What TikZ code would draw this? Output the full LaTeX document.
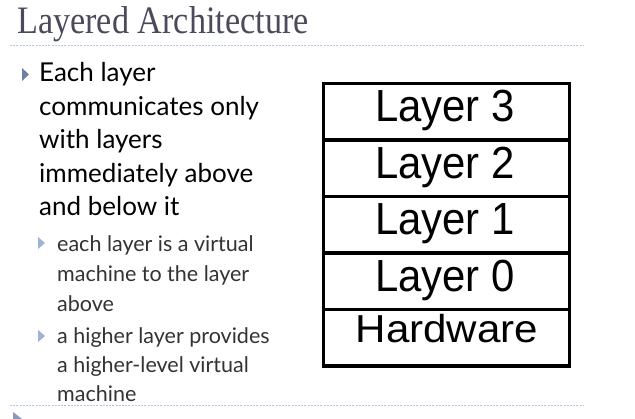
\documentclass[tikz,border=0pt]{standalone}
\usepackage{fontspec}
\setmainfont{Liberation Serif}
\newfontfamily\bodyfont{Lato}
\newfontfamily\boxfont{Liberation Sans}
\definecolor{titlegray}{HTML}{4B4A5A}
\definecolor{rulecol}{HTML}{B4C6DE}
\definecolor{bulletmain}{HTML}{6F7FA3}
\definecolor{bulletsub}{HTML}{9DB3D6}
\definecolor{subtext}{HTML}{333333}
\tikzset{
  px/.style={x=1pt,y=-1pt},
  titletext/.style={anchor=base west,inner sep=0pt,text=titlegray,
    font=\fontsize{36}{40}\selectfont},
  mainline/.style={anchor=base west,inner sep=0pt,text=black,
    font=\bodyfont\fontsize{26}{30}\selectfont},
  subline/.style={anchor=base west,inner sep=0pt,text=subtext,
    font=\bodyfont\fontsize{21.5}{25}\selectfont},
  sepline/.style={draw=rulecol,line width=1pt,dash pattern=on 2pt off 1.2pt},
  layerrow/.style={draw=black,line width=3.4pt,minimum width=246pt,
    minimum height=56.5pt,inner sep=0pt,anchor=north west},
  layertext/.style={anchor=base,inner sep=0pt,
    font=\boxfont\fontsize{45}{50}\selectfont},
}
\begin{document}
\begin{tikzpicture}[px]
\useasboundingbox (0,0) rectangle (635,419);
% title and separator rules
\node[titletext] (title) at (17,34) {\scalebox{0.95}[1.08]{Layered Architecture}};
\coordinate (t0) at (10,46); \coordinate (t1) at (583,46);
\draw[sepline] (t0) -- (t1);
\coordinate (b0) at (10,406); \coordinate (b1) at (583,406);
\draw[sepline] (b0) -- (b1);
% bullet markers
\fill[bulletmain] (22,68) -- (29,74.5) -- (22,81) -- cycle;
\fill[bulletsub] (38,237) -- (45,243) -- (38,249) -- cycle;
\fill[bulletsub] (38,330) -- (45,336) -- (38,342) -- cycle;
\fill[bulletmain!80] (13,412) -- (22,419) -- (13,426) -- cycle;
% main bullet text
\node[mainline] (m1) at (39,82) {Each layer};
\node[mainline] (m2) at (39,115.5) {communicates only};
\node[mainline] (m3) at (39,149) {with layers};
\node[mainline] (m4) at (39,182.5) {immediately above};
\node[mainline] (m5) at (39,216) {and below it};
% sub bullets
\node[subline] (s1) at (57,252) {each layer is a virtual};
\node[subline] (s2) at (57,282) {machine to the layer};
\node[subline] (s3) at (57,312) {above};
\node[subline] (s4) at (57,344) {a higher layer provides};
\node[subline] (s5) at (57,373) {a higher-level virtual};
\node[subline] (s6) at (57,402) {machine};
% layer stack
\node[layerrow] (r3) at (322,82) {};
\node[layerrow] (r2) at (322,138.5) {};
\node[layerrow] (r1) at (322,195) {};
\node[layerrow] (r0) at (322,251.5) {};
\node[layerrow] (hw) at (322,308) {};
\node[layertext] (l3) at (445,122) {\scalebox{0.93}[1]{Layer 3}};
\node[layertext] (l2) at (445,178.5) {\scalebox{0.93}[1]{Layer 2}};
\node[layertext] (l1) at (445,235) {\scalebox{0.93}[1]{Layer 1}};
\node[layertext] (l0) at (445,291.5) {\scalebox{0.93}[1]{Layer 0}};
\node[layertext,font=\boxfont\fontsize{39}{44}\selectfont] (lh) at (447,343) {\scalebox{1.08}[1]{Hardware}};
\end{tikzpicture}
\end{document}
